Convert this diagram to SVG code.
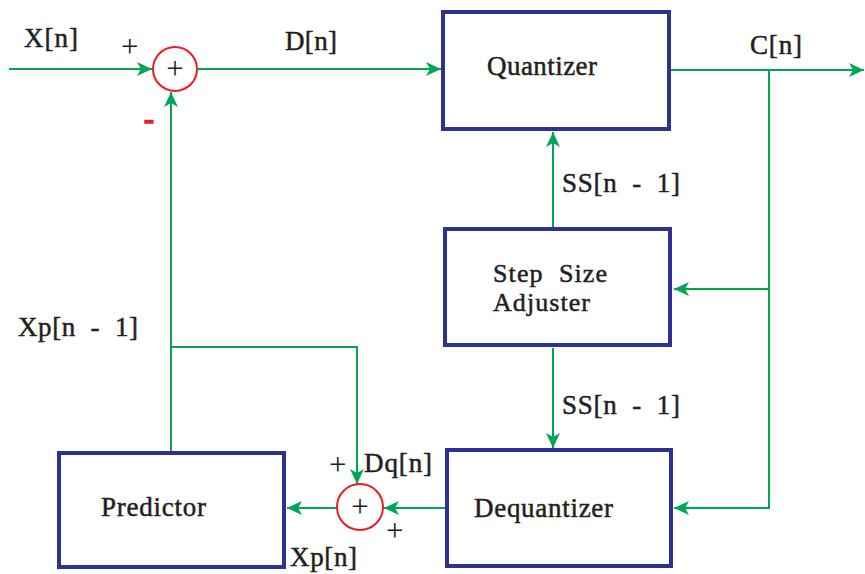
<svg xmlns="http://www.w3.org/2000/svg" width="865" height="574" viewBox="0 0 865 574">
<defs>
<style>
.box{fill:#fff;stroke:#2e3192;stroke-width:4}
.sum{fill:#fff;stroke:#ed1c24;stroke-width:2}
.ln{fill:none;stroke:#00a651;stroke-width:2}
text{font-family:'Liberation Serif','DejaVu Serif',serif;white-space:pre}
.t{font-size:27px;fill:#231f20;stroke:#231f20;stroke-width:0.5}
.s{font-size:26px;fill:#231f20;stroke:#231f20;stroke-width:0.5}
.p{font-size:31px;fill:#231f20}
</style>
<marker id="ah" markerUnits="userSpaceOnUse" markerWidth="16" markerHeight="14" refX="15" refY="7" orient="auto">
<path d="M0,0 L15,7 L0,14 L4,7 Z" fill="#00a651"/>
</marker>
</defs>
<rect width="865" height="574" fill="#fff"/>
<g id="connectors">
<path class="ln" d="M9,69 H152" marker-end="url(#ah)"/>
<path class="ln" d="M198,69 H441" marker-end="url(#ah)"/>
<path class="ln" d="M671,70 H864" marker-end="url(#ah)"/>
<path class="ln" d="M769,70 V508 H674" marker-end="url(#ah)"/>
<path class="ln" d="M769,289 H674" marker-end="url(#ah)"/>
<path class="ln" d="M553,227 V132" marker-end="url(#ah)"/>
<path class="ln" d="M553,348 V448" marker-end="url(#ah)"/>
<path class="ln" d="M445,508 H384" marker-end="url(#ah)"/>
<path class="ln" d="M337,508 H287" marker-end="url(#ah)"/>
<path class="ln" d="M171,451 V92" marker-end="url(#ah)"/>
<path class="ln" d="M171,347 H357 V484" marker-end="url(#ah)"/>
</g>
<g id="sum1">
<circle class="sum" cx="175" cy="69" r="22"/>
<text class="p" x="175" y="79" text-anchor="middle">+</text>
</g>
<g id="quantizer">
<rect class="box" x="443" y="12" width="226" height="117"/>
<text class="t" x="487" y="75" textLength="110">Quantizer</text>
</g>
<g id="stepsize">
<rect class="box" x="445" y="229" width="225" height="116"/>
<text class="s" x="493" y="282" textLength="114">Step  Size</text>
<text class="s" x="493" y="311" textLength="97">Adjuster</text>
</g>
<g id="dequantizer">
<rect class="box" x="447" y="450" width="224" height="116"/>
<text class="t" x="474" y="517" textLength="139">Dequantizer</text>
</g>
<g id="predictor">
<rect class="box" x="59" y="453" width="225" height="114"/>
<text class="t" x="101" y="516" textLength="105">Predictor</text>
</g>
<g id="sum2">
<circle class="sum" cx="360" cy="507" r="23"/>
<text class="p" x="360" y="517" text-anchor="middle">+</text>
</g>
<g id="labels">
<text class="t" x="24" y="47" textLength="54">X[n]</text>
<text class="p" x="121" y="57">+</text>
<text x="144" y="129" font-family="Liberation Sans, Arial, sans-serif" font-size="30" font-weight="bold" fill="#ed1c24" stroke="#ed1c24" stroke-width="1.5">-</text>
<text class="t" x="285" y="50" textLength="52">D[n]</text>
<text class="t" x="750" y="54" textLength="52">C[n]</text>
<text class="t" x="562" y="192" textLength="118">SS[n  -  1]</text>
<text class="t" x="562" y="414" textLength="118">SS[n  -  1]</text>
<text class="t" x="18" y="336" textLength="120">Xp[n  -  1]</text>
<text class="p" x="329" y="475">+</text>
<text class="t" x="364" y="472" textLength="68">Dq[n]</text>
<text class="p" x="386" y="541">+</text>
<text class="t" x="290" y="566" textLength="67">Xp[n]</text>
</g>
</svg>
